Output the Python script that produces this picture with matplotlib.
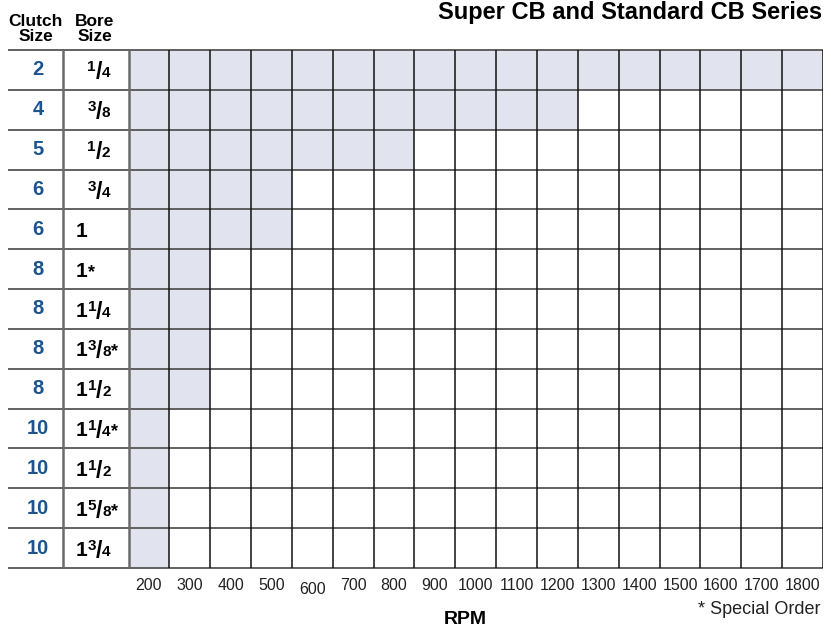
import matplotlib
matplotlib.use("Agg")
import matplotlib.pyplot as plt
import matplotlib.transforms as mtransforms

plt.rcParams["font.family"] = ["Liberation Sans", "DejaVu Sans"]

# table data
clutch_sizes = ["2", "4", "5", "6", "6", "8", "8", "8", "8", "10", "10", "10", "10"]
# bore size as (whole, numerator, denominator, special order mark)
bore_sizes = [("", "1", "4", ""), ("", "3", "8", ""), ("", "1", "2", ""), ("", "3", "4", ""),
              ("1", "", "", ""), ("1", "", "", "*"), ("1", "1", "4", ""), ("1", "3", "8", "*"),
              ("1", "1", "2", ""), ("1", "1", "4", "*"), ("1", "1", "2", ""), ("1", "5", "8", "*"),
              ("1", "3", "4", "")]
max_rpm = [1800, 1200, 800, 500, 500, 300, 300, 300, 300, 200, 200, 200, 200]
rpm_ticks = list(range(200, 1900, 100))

shade = "#e1e4ee"
blue = "#1c5490"

fig = plt.figure(figsize=(8.31, 6.31), dpi=100)
ax = fig.add_axes([128.5 / 831, 63 / 631, (823 - 128.5) / 831, (568 - 50) / 631])
n = len(clutch_sizes)
step = rpm_ticks[1] - rpm_ticks[0]
x0 = rpm_ticks[0] - step / 2
x1 = rpm_ticks[-1] + step / 2
ax.set_xlim(x0, x1)
ax.set_ylim(n, 0)

rows = [i + 0.5 for i in range(n)]
ax.barh(rows, [m + step / 2 - x0 for m in max_rpm], left=x0, height=1.0,
        color=shade, zorder=1)

# grid lines
px = step / 40.85  # data units per pixel
left_edge = x0 - 120.5 * px
div1 = x0 - 65.5 * px
ax.hlines(range(n + 1), left_edge, x1, colors="#555555", lw=1.3, clip_on=False, zorder=3)
ax.vlines([x0 + step * k for k in range(1, len(rpm_ticks) + 1)], 0, n,
          colors="#111111", lw=1.1, zorder=3)
ax.vlines([div1, x0], 0, n, colors="#6a6a6a", lw=1.8, clip_on=False, zorder=3)

for sp in ax.spines.values():
    sp.set_visible(False)
ax.set_yticks([])
ax.set_xticks(rpm_ticks)
ax.set_xticklabels([str(r) for r in rpm_ticks], fontsize=11.5, color="#222222")
ax.tick_params(axis="x", length=0, pad=7)
for lbl in ax.get_xticklabels():
    if lbl.get_text() == "600":
        lbl.set_y(-0.008)

renderer = fig.canvas.get_renderer()


def piece(x, y, s, size, dx, dy):
    tr = mtransforms.offset_copy(ax.transData, fig=fig, x=dx, y=dy, units="dots")
    t = ax.text(x, y, s, transform=tr, fontsize=size, fontweight="bold",
                ha="left", va="baseline", clip_on=False)
    return t.get_window_extent(renderer).width


def draw_bore(x, y, whole, num, den, star):
    dx = 0
    if whole:
        dx += piece(x, y, whole, 15, dx, 0)
    if num:
        dx += piece(x, y, num, 11, dx, 6)
        dx += piece(x, y, "/", 16.5, dx - 0.5, -2) - 0.5
        dx += piece(x, y, den, 11, dx, 0)
    if star:
        piece(x, y, star, 13, dx + 0.5, 0)


clutch_x = x0 - 90.5 * px
for i, (c, b) in enumerate(zip(clutch_sizes, bore_sizes)):
    ax.text(clutch_x, i + 0.5, c, color=blue, fontsize=14.5, fontweight="bold",
            ha="center", va="center", clip_on=False)
    bx = x0 - (41 if b[0] == "" else 52.5) * px
    draw_bore(bx, i + 0.69, *b)

ax.text(x0 - 93 * px, -0.53, "Clutch\nSize", fontsize=12.5, fontweight="bold",
        ha="center", va="center", linespacing=0.95, clip_on=False)
ax.text(x0 - 33.5 * px, -0.53, "Bore\nSize", fontsize=12.5, fontweight="bold",
        ha="center", va="center", linespacing=0.95, clip_on=False)

fig.text(822 / 831, 1 - 13 / 631, "Super CB and Standard CB Series", fontsize=17,
         fontweight="bold", ha="right", va="center")
fig.text(465 / 831, 1 - 619.5 / 631, "RPM", fontsize=14, fontweight="bold",
         ha="center", va="center")
fig.text(821 / 831, 1 - 610 / 631, "* Special Order", fontsize=13, color="#222222",
         ha="right", va="center")

fig.savefig("out.png", dpi=100, facecolor="white")
